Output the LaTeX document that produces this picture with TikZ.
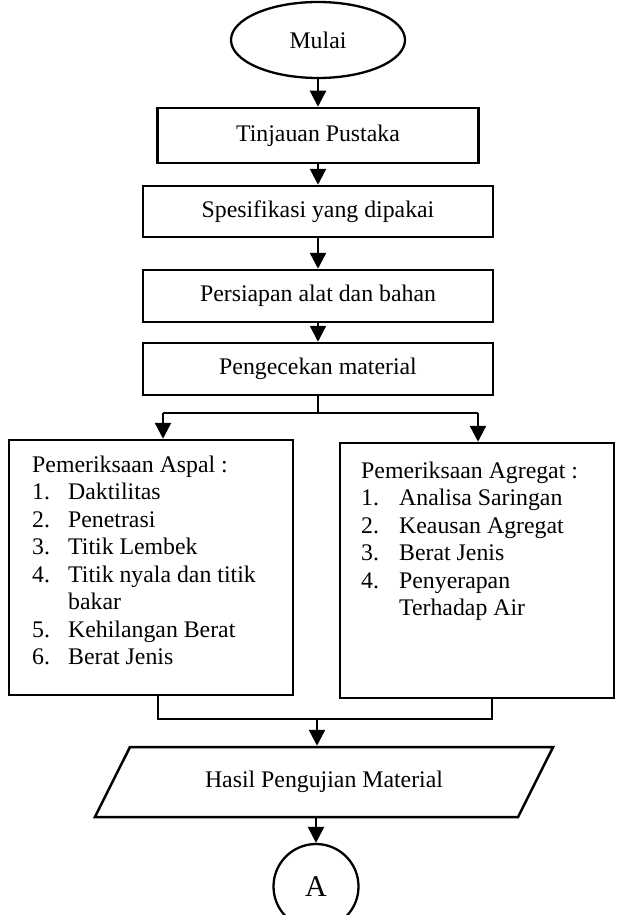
\documentclass[tikz,border=0pt]{standalone}
\usepackage{fontspec}
\setmainfont{Liberation Serif}
\usetikzlibrary{shapes.geometric}
\usetikzlibrary{arrows.meta}

\tikzset{
  prosesbox/.style={draw, line width=2.5pt, minimum width=350pt, minimum height=52pt, inner sep=0pt},
  listbox/.style={draw, line width=2.5pt, inner sep=0pt},
  panah/.style={line width=2.4pt, -{Triangle[width=16pt,length=16pt]}},
  garis/.style={line width=1.3pt},
}

\begin{document}
\begin{tikzpicture}[x=1pt, y=-1pt, font=\fontsize{23.8}{27.5}\selectfont]
\useasboundingbox (0,0) rectangle (616,915);
\node [ellipse, draw, line width=2.3pt, minimum width=174pt, minimum height=76pt] (mulai) at (318,40) {Mulai};
\node [prosesbox, minimum width=321pt, minimum height=55pt] (tinjauan) at (318,135.5) {Tinjauan Pustaka};
\node [prosesbox, minimum height=51pt] (spesifikasi) at (318,211.5) {Spesifikasi yang dipakai};
\node [prosesbox] (persiapan) at (318,296) {Persiapan alat dan bahan};
\node [prosesbox] (pengecekan) at (318,369) {Pengecekan material};
\node [listbox, minimum width=284pt, minimum height=255pt] (aspal) at (151,567.5) {};
\node [listbox, minimum width=274pt, minimum height=255pt] (agregat) at (477,570.5) {};
\node [anchor=base west, inner sep=0pt] (aspalisi) at (32,472) {\begin{tabular}[t]{@{}p{36pt}@{}l@{}}
\multicolumn{2}{@{}l@{}}{Pemeriksaan Aspal :}\\
1. & Daktilitas\\
2. & Penetrasi\\
3. & Titik Lembek\\
4. & Titik nyala dan titik\\
 & bakar\\
5. & Kehilangan Berat\\
6. & Berat Jenis
\end{tabular}};
\node [anchor=base west, inner sep=0pt] (agregatisi) at (361,478) {\begin{tabular}[t]{@{}p{38pt}@{}l@{}}
\multicolumn{2}{@{}l@{}}{Pemeriksaan Agregat :}\\
1. & Analisa Saringan\\
2. & Keausan Agregat\\
3. & Berat Jenis\\
4. & Penyerapan\\
 & Terhadap Air
\end{tabular}};
\node [trapezium, trapezium left angle=52, trapezium right angle=128, trapezium stretches=true, draw, line width=2.5pt, minimum width=460pt, minimum height=70pt] (hasil) at (324,782) {Hasil Pengujian Material};
\node [circle, draw, line width=2.3pt, minimum size=85pt, font=\fontsize{30}{30}\selectfont] (A) at (316,886.5) {A};
\coordinate (cabang) at (318,413);
\coordinate (cabangkiri) at (163,413);
\coordinate (cabangkanan) at (478,413);
\coordinate (gabung) at (317,719);
\coordinate (gabungkiri) at (158,719);
\coordinate (gabungkanan) at (492,719);
\draw [panah] (mulai.south) -- (tinjauan.north);
\draw [panah] (tinjauan.south) -- (spesifikasi.north);
\draw [panah] (spesifikasi.south) -- (persiapan.north);
\draw [panah] (persiapan.south) -- (pengecekan.north);
\draw [garis] (pengecekan.south) -- (cabang);
\draw [garis] (cabangkiri) -- (cabangkanan);
\draw [panah] (cabangkiri) -- (cabangkiri |- aspal.north);
\draw [panah] (cabangkanan) -- (cabangkanan |- agregat.north);
\draw [garis] (gabungkiri |- aspal.south) -- (gabungkiri) -- (gabungkanan) -- (gabungkanan |- agregat.south);
\draw [panah] (gabung) -- (gabung |- hasil.north);
\draw [panah] (hasil.south -| A.north) -- (A.north);
\end{tikzpicture}
\end{document}
